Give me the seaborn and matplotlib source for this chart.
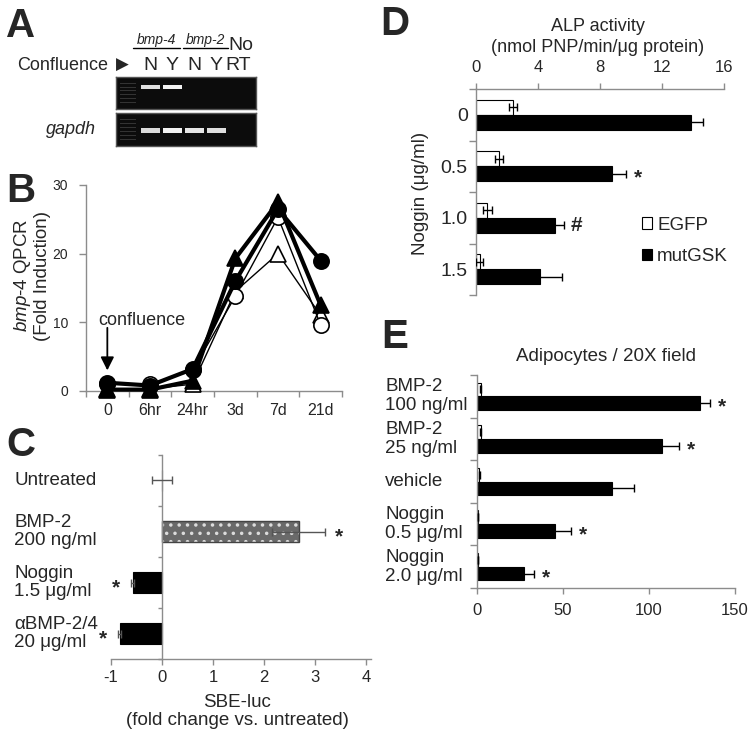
import numpy as np
import pandas as pd
import matplotlib
matplotlib.use('Agg')
import matplotlib.pyplot as plt
import seaborn as sns
from matplotlib.transforms import blended_transform_factory

sns.set_theme(style='ticks')
plt.rcParams['font.family'] = ['Liberation Sans', 'DejaVu Sans']
plt.rcParams['mathtext.fontset'] = 'custom'
plt.rcParams['mathtext.rm'] = 'Liberation Sans'
plt.rcParams['mathtext.it'] = 'Liberation Sans:italic'
plt.rcParams['axes.unicode_minus'] = False
plt.rcParams['hatch.linewidth'] = 1.3

GREY = '#8c8c8c'
W, H = 755, 739

# ── DATA ─────────────────────────────────────────────────
# A: RT-PCR gel, band brightness per lane (ladder lane drawn separately)
gel_lanes = ['N', 'Y', 'N', 'Y', 'RT']
bmp_bands = [0.92, 1.0, 0.0, 0.0, 0.0]
gapdh_bands = [0.9, 1.0, 0.95, 0.92, 0.0]
ladder_rungs = [0.18, 0.3, 0.42, 0.54, 0.66, 0.78]

# B: bmp-4 QPCR time course
time_points = ['0', '6hr', '24hr', '3d', '7d', '21d']
filled_circle = [1.2, 0.8, 3.2, 16.0, 26.5, 19.0]
filled_tri = [0.2, 0.2, 1.5, 19.3, 27.5, 12.5]
open_circle = [1.0, 1.0, 3.0, 13.8, 25.3, 9.6]
open_tri = [0.3, 0.3, 1.0, 14.5, 20.0, 11.0]

# C: SBE-luc
c_labels = ['Untreated', 'BMP-2\n200 ng/ml', 'Noggin\n1.5 μg/ml', 'αBMP-2/4\n20 μg/ml']
c_values = [0.0, 2.68, -0.57, -0.83]
c_err = [0.2, 0.52, 0.03, 0.03]
c_sig = ['', '*', '*', '*']

# D: ALP activity
d_levels = ['0', '0.5', '1.0', '1.5']
d_egfp = [2.4, 1.5, 0.72, 0.25]
d_egfp_err = [0.25, 0.25, 0.3, 0.22]
d_gsk = [13.85, 8.75, 5.1, 4.15]
d_gsk_err = [0.8, 0.9, 0.6, 1.4]
d_sig = ['', '*', '#', '']

# E: adipocytes
e_labels = ['BMP-2\n100 ng/ml', 'BMP-2\n25 ng/ml', 'vehicle',
            'Noggin\n0.5 μg/ml', 'Noggin\n2.0 μg/ml']
e_egfp = [2.3, 2.2, 1.2, 0.4, 0.3]
e_egfp_err = [0.3, 0.3, 0.3, 0.0, 0.0]
e_gsk = [129.5, 107.8, 78.2, 45.5, 27.1]
e_gsk_err = [5.8, 9.5, 13.0, 9.0, 5.8]
e_sig = ['*', '*', '', '*', '*']

fig = plt.figure(figsize=(W / 100, H / 100), dpi=100)


def add_ax(x0, y0, x1, y1):
    return fig.add_axes([x0 / W, 1 - y1 / H, (x1 - x0) / W, (y1 - y0) / H])


def fy(py):
    return 1 - py / H


def grey_spines(ax, show):
    for side, sp in ax.spines.items():
        sp.set_visible(side in show)
        sp.set_color(GREY)
        sp.set_linewidth(1.0)


# panel letters
for letter, px, py in [('A', 6, 37), ('B', 6, 202), ('C', 6, 456),
                       ('D', 380, 35), ('E', 381, 348)]:
    fig.text(px / W, fy(py), letter, fontsize=29, fontweight='bold', va='baseline')

# ── A. GEL ───────────────────────────────────────────────
gelA1 = add_ax(116, 77, 256, 109)
gelA2 = add_ax(116, 113, 256, 146)
lane_x = np.arange(1, len(gel_lanes) + 1)
for gax, bands, top, thick in [(gelA1, bmp_bands, 0.25, 0.12), (gelA2, gapdh_bands, 0.46, 0.14)]:
    gax.set_facecolor('#0c0c0c')
    gax.bar([0] * len(ladder_rungs), 0.03, bottom=ladder_rungs, width=0.7,
            color='#333333', linewidth=0)
    keep = [i for i, b in enumerate(bands) if b > 0]
    gax.bar(lane_x[keep], thick, bottom=top, width=0.85, linewidth=0,
            color=[(bands[i] * 0.95,) * 3 for i in keep])
    gax.set_xlim(-0.55, 5.8)
    gax.set_ylim(1, 0)
    gax.set_xticks([])
    gax.set_yticks([])
    for sp in gax.spines.values():
        sp.set_color('#555555')
        sp.set_linewidth(1.0)

trA = blended_transform_factory(gelA1.transData, gelA1.transAxes)
for x, lab in zip(lane_x, gel_lanes):
    gelA1.text(x, 1.37, lab, transform=trA, ha='center', va='center', fontsize=14)
gelA1.text(lane_x[-1] + 0.1, 2.0, 'No', transform=trA, ha='center', va='center', fontsize=14)
for txt, x0, x1 in [('bmp-4', 0.22, 2.35), ('bmp-2', 2.49, 4.53)]:
    gelA1.plot([x0, x1], [1.9, 1.9], transform=trA, color='black', lw=1, clip_on=False)
    gelA1.text((x0 + x1) / 2, 1.93, txt, transform=trA, ha='center', va='bottom',
               fontsize=10, style='italic')
fig.text(17 / W, fy(65), 'Confluence', fontsize=13, va='center')
fig.text(116 / W, fy(65), '▶', fontsize=12, va='center', family='DejaVu Sans')
fig.text(46 / W, fy(130), 'gapdh', fontsize=13, va='center', style='italic')

# ── B. QPCR LINES ────────────────────────────────────────
axB = add_ax(86, 185, 342, 391)
x_idx = np.arange(len(time_points))
series_B = [(open_tri, '^', 'white', 1.0, 12, 3),
            (open_circle, 'o', 'white', 1.0, 11, 4),
            (filled_tri, '^', 'black', 3.0, 12, 5),
            (filled_circle, 'o', 'black', 3.0, 11, 6)]
for vals, mk, fc, lw, ms, z in series_B:
    sns.lineplot(x=x_idx, y=vals, ax=axB, color='black', linewidth=lw, marker=mk,
                 markersize=ms, mfc=fc, mec='black', mew=1.2, clip_on=False,
                 zorder=z, legend=False)
axB.set_xlim(-0.5, len(time_points) - 0.5)
axB.set_ylim(0, 30)
axB.set_yticks([0, 10, 20, 30])
axB.set_xticks(np.arange(-0.5, len(time_points)), labels=[''] * (len(time_points) + 1))
axB.set_xticks(x_idx, labels=time_points, minor=True)
axB.tick_params(axis='y', length=5, width=1, color=GREY, labelsize=10, pad=8)
axB.tick_params(axis='x', which='major', length=4, width=1, color=GREY)
axB.tick_params(axis='x', which='minor', length=0, labelsize=11.5, pad=9)
grey_spines(axB, ['left', 'bottom'])
axB.set_ylabel('$\\mathit{bmp}$-$\\mathit{4}$ QPCR\n(Fold Induction)', fontsize=13.5,
               linespacing=1.1)
axB.yaxis.set_label_coords(-0.135, 0.56)
axB.annotate('', xy=(0, 3.0), xytext=(0, 9.2),
             arrowprops=dict(arrowstyle='-|>', color='black', lw=1.3,
                             mutation_scale=20, shrinkA=0, shrinkB=0))
axB.text(-0.22, 10.3, 'confluence', ha='left', va='center', fontsize=13)

# ── C. SBE-LUC ───────────────────────────────────────────
axC = add_ax(111, 455, 371, 659)
dfC = pd.DataFrame({'treatment': c_labels, 'fold': c_values})
sns.barplot(data=dfC, y='treatment', x='fold', hue='treatment',
            palette=['black', '#6a6a6a', 'black', 'black'], orient='h', width=0.43,
            errorbar=None, legend=False, ax=axC, edgecolor='black', linewidth=0.8)
bmp_bar = axC.patches[1]
bmp_bar.set_edgecolor('#dcdcdc')
bmp_bar.set_hatch('..')
bmp_bar.set_linewidth(0)
axC.barh(bmp_bar.get_y() + bmp_bar.get_height() / 2, bmp_bar.get_width(),
         height=bmp_bar.get_height(), fill=False, edgecolor='#444444', linewidth=1)
c_y = [p.get_y() + p.get_height() / 2 for p in axC.patches[:len(c_values)]]
axC.errorbar(c_values, c_y, xerr=c_err, fmt='none', ecolor='#555555',
             elinewidth=1, capsize=3, capthick=1, zorder=5)
for v, e, y, s in zip(c_values, c_err, c_y, c_sig):
    if s:
        off = 10 if v > 0 else -11
        axC.annotate(s, xy=(v + np.sign(v) * e, y), xytext=(off, -4),
                     textcoords='offset points', ha='center', va='center',
                     fontsize=15, fontweight='bold')
axC.set_xlim(-1, 4.1)
axC.set_ylim(len(c_labels) - 0.5, -0.5)
axC.set_xticks([-1, 0, 1, 2, 3, 4])
axC.set_yticks(np.arange(-0.5, len(c_labels)), labels=[''] * (len(c_labels) + 1))
axC.spines['left'].set_position(('data', 0))
grey_spines(axC, ['left', 'bottom'])
axC.tick_params(axis='x', length=4, width=1, color=GREY, labelsize=12, pad=4)
axC.tick_params(axis='y', length=3, width=1, color=GREY)
axC.set_ylabel('')
axC.set_xlabel('SBE-luc\n(fold change vs. untreated)', fontsize=13.5, linespacing=1.1)
axC.xaxis.set_label_coords(0.485, -0.17)
trC = blended_transform_factory(fig.transFigure, axC.transData)
for i, lab in enumerate(c_labels):
    axC.text(14 / W, i, lab, transform=trC, ha='left', va='center', fontsize=13.5,
             linespacing=1.15)

# ── D. ALP ACTIVITY ──────────────────────────────────────
axD = add_ax(476, 89, 724, 295)
dfD = pd.DataFrame({'noggin': d_levels * 2,
                    'alp': d_egfp + d_gsk,
                    'vector': ['EGFP'] * len(d_levels) + ['mutGSK'] * len(d_levels)})
sns.barplot(data=dfD, y='noggin', x='alp', hue='vector', hue_order=['EGFP', 'mutGSK'],
            palette={'EGFP': 'white', 'mutGSK': 'black'}, orient='h', width=0.58,
            errorbar=None, legend=False, ax=axD, edgecolor='black', linewidth=0.8)
for cont, vals, errs in zip(axD.containers, [d_egfp, d_gsk], [d_egfp_err, d_gsk_err]):
    ys = [b.get_y() + b.get_height() / 2 for b in cont]
    axD.errorbar(vals, ys, xerr=errs, fmt='none', ecolor='black', elinewidth=1,
                 capsize=3, capthick=1, zorder=5)
    if vals is d_gsk:
        for v, e, y, s in zip(vals, errs, ys, d_sig):
            if s:
                axD.annotate(s, xy=(v + e, y), xytext=(9, -3 if s == '*' else 0),
                             textcoords='offset points', ha='center', va='center',
                             fontsize=15, fontweight='bold')
axD.set_xlim(0, 16)
axD.set_ylim(len(d_levels) - 0.5, -0.5)
axD.xaxis.tick_top()
axD.set_xticks([0, 4, 8, 12, 16])
axD.set_yticks(np.arange(-0.5, len(d_levels)), labels=[''] * (len(d_levels) + 1))
axD.set_yticks(np.arange(len(d_levels)), labels=d_levels, minor=True)
grey_spines(axD, ['left', 'top'])
axD.tick_params(axis='x', length=4, width=1, color=GREY, labelsize=12, pad=6)
axD.tick_params(axis='y', which='major', length=5, width=1, color=GREY)
axD.tick_params(axis='y', which='minor', length=0, labelsize=14, pad=6)
axD.xaxis.set_label_position('top')
axD.set_xlabel('ALP activity\n(nmol PNP/min/μg protein)', fontsize=13, linespacing=1.3)
axD.xaxis.set_label_coords(0.49, 1.18)
axD.set_ylabel('Noggin (μg/ml)', fontsize=13.5)
axD.yaxis.set_label_coords(-0.19, 0.495)
axD.legend(handles=[axD.containers[0][0], axD.containers[1][0]], labels=['EGFP', 'mutGSK'],
           loc='upper left', bbox_to_anchor=(0.67, 0.38), frameon=False, fontsize=13.5,
           handlelength=0.55, handleheight=0.55, handletextpad=0.25, labelspacing=0.75,
           borderpad=0, borderaxespad=0)

# ── E. ADIPOCYTES ────────────────────────────────────────
axE = add_ax(477, 375, 735, 588)
dfE = pd.DataFrame({'treatment': e_labels * 2,
                    'count': e_egfp + e_gsk,
                    'vector': ['EGFP'] * len(e_labels) + ['mutGSK'] * len(e_labels)})
sns.barplot(data=dfE, y='treatment', x='count', hue='vector', hue_order=['EGFP', 'mutGSK'],
            palette={'EGFP': 'white', 'mutGSK': 'black'}, orient='h', width=0.64,
            errorbar=None, legend=False, ax=axE, edgecolor='black', linewidth=0.8)
for cont, vals, errs in zip(axE.containers, [e_egfp, e_gsk], [e_egfp_err, e_gsk_err]):
    ys = [b.get_y() + b.get_height() / 2 for b in cont]
    axE.errorbar(vals, ys, xerr=errs, fmt='none', ecolor='black', elinewidth=1,
                 capsize=3, capthick=1, zorder=5)
    if vals is e_gsk:
        for v, e, y, s in zip(vals, errs, ys, e_sig):
            if s:
                axE.annotate(s, xy=(v + e, y), xytext=(9, -3),
                             textcoords='offset points', ha='center', va='center',
                             fontsize=15, fontweight='bold')
axE.set_xlim(0, 150)
axE.set_ylim(len(e_labels) - 0.5, -0.5)
axE.set_xticks([0, 50, 100, 150])
axE.set_yticks(np.arange(-0.5, len(e_labels)), labels=[''] * (len(e_labels) + 1))
grey_spines(axE, ['left', 'bottom'])
axE.tick_params(axis='x', length=4, width=1, color=GREY, labelsize=12, pad=7)
axE.tick_params(axis='y', length=5, width=1, color=GREY)
axE.set_ylabel('')
axE.set_xlabel('')
axE.set_title('Adipocytes / 20X field', fontsize=13.5, y=1.066, pad=0)
trE = blended_transform_factory(fig.transFigure, axE.transData)
for i, lab in enumerate(e_labels):
    axE.text(385 / W, i, lab, transform=trE, ha='left', va='center', fontsize=13.5,
             linespacing=1.15)

plt.savefig('out.png', dpi=100, facecolor='white')
